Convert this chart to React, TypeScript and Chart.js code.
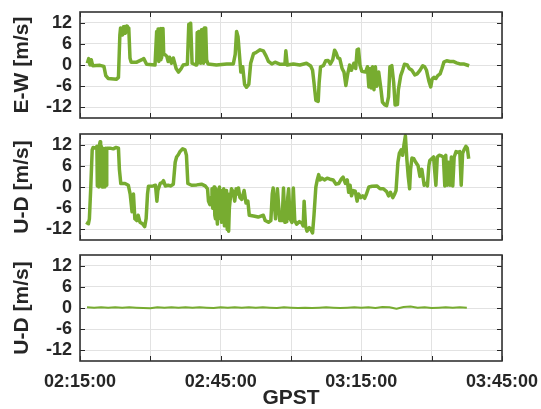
import React, { useEffect, useRef } from 'react';
import { Chart, registerables } from 'chart.js';
Chart.register(...registerables);

// time in minutes after 02:15:00 GPST
const EW_T = [
  1.56, 1.85, 2.13, 2.4, 2.7, 4.27, 5.1, 5.5, 6.0, 7.8,
  8.2, 8.5, 8.65, 8.8, 8.95, 9.1, 9.25, 9.4, 9.55, 9.7,
  9.85, 9.95, 10.1, 10.25, 10.4, 10.66, 10.9, 12.1, 13.2, 13.6,
  14.2, 16.0, 16.35, 16.5, 16.65, 16.8, 16.95, 17.1, 17.25, 17.4,
  17.55, 17.7, 17.85, 18.1, 18.5, 18.8, 19.1, 19.5, 19.9, 20.5,
  21.0, 21.5, 22.0, 22.9, 23.2, 23.4, 23.6, 23.9, 24.7, 24.9,
  25.0, 25.15, 25.3, 25.45, 25.6, 25.75, 25.9, 26.05, 26.2, 26.35,
  26.5, 26.65, 26.8, 27.0, 27.3, 29.1, 31.3, 32.7, 33.1, 33.4,
  33.7, 34.0, 34.3, 34.7, 35.1, 35.5, 36.0, 36.4, 37.0, 37.5,
  38.4, 39.1, 39.7, 40.2, 40.9, 41.6, 42.7, 43.7, 43.9, 44.2,
  45.5, 46.9, 48.3, 49.2, 49.6, 49.9, 50.3, 50.8, 51.0, 51.3,
  51.9, 52.4, 52.9, 53.4, 53.9, 54.3, 54.6, 55.0, 55.4, 55.9,
  56.3, 56.7, 57.1, 57.5, 57.9, 58.4, 58.8, 59.1, 59.4, 59.7,
  60.1, 60.9, 61.3, 61.6, 61.9, 62.1, 62.4, 62.7, 63.0, 63.3,
  63.7, 64.2, 64.5, 65.0, 65.4, 65.8, 66.1, 66.5, 66.9, 67.2,
  67.7, 67.9, 68.4, 68.8, 69.2, 69.8, 70.2, 70.8, 71.4, 71.9,
  72.5, 73.1, 73.5, 73.9, 74.4, 74.8, 75.1, 75.5, 75.9, 76.3,
  76.8, 77.2, 77.6, 78.2, 78.9, 79.6, 80.3, 81.0, 81.8, 82.5, 83.0,
];
const EW_V = [
  0.5, 1.8, 0, 1.5, -0.2, -0.1, -0.4, -3.0, -3.8, -4.0,
  -3.5, 8.5, 10.5, 8.8, 10.2, 8.5, 10.8, 9.2, 10.9, 9.0,
  11.0, 9.5, 11.0, 9.8, 10.5, 2, 0.8, 0.8, 1.5, 1.8,
  0.2, 0, 9.5, 2, 10.2, 1, 10.0, 1.5, 10.3, 2,
  10.0, 10.3, 3, 3, 2.5, 1.0, 2.2, 0.5, 2.0, -1.0,
  -2.0, -1.2, 0, 0.2, 11.5, 10.5, 11.8, 0.5, 0, 0,
  9.2, 0.5, 9.5, 1, 9.5, 0.5, 10, 1, 10, 0.5,
  10.5, 1, 10.5, 1.5, 0.3, 0, 0.3, 0.3, 3, 9.5,
  8, 3, -2, -0.5, -5.5, -6.3, -5.5, 0.5, 3.2, 3.5,
  4.3, 4.0, 2.5, 1.0, 0.3, 0.8, 0.2, 0.2, 4.0, 0,
  0.3, 0, 0.5, -0.3, -1.5, -5, -10.0, -10.3, -5, -0.5,
  -0.2, 1.2, 1.3, 0.3, 1.5, 4.2, 3.5, 2.0, 1.8, -1,
  -2, -5.8, -2.5, 0, -1.5, 0.5, -1, 4.3, 4.5, 0,
  -1.8, -2, -0.5, -6.2, -1, -6.5, -0.5, -7.0, -0.5, -6.0,
  -2, -7, -10.5, -11.3, -11.5, -9, -0.5, -0.2, -5, -11.3,
  -11.2, -7, -3, -1.5, 0.2, 0, -1, -1.5, -2.8, -2.5,
  -1.5, -0.2, -0.5, -1.5, -4.5, -6.2, -4, -3.5, -3.8, -3,
  -2.5, -1, 0.8, 1.2, 1.0, 1.0, 0.6, 0.3, 0.3, 0, -0.2,
];

const UD_T = [
  1.3, 1.8, 2.0, 2.3, 2.6, 2.8, 3.3, 3.6, 3.7, 3.85,
  4.0, 4.15, 4.3, 4.4, 4.55, 4.7, 4.85, 5.0, 5.15, 5.3,
  5.45, 5.55, 5.7, 6.4, 7.1, 7.7, 8.2, 8.4, 8.7, 9.6,
  10.3, 10.7, 11.1, 11.4, 11.7, 12.1, 12.4, 12.8, 13.4, 13.8,
  14.1, 14.4, 14.6, 15.6, 16.1, 16.4, 16.6, 17.1, 17.5, 17.8,
  18.2, 18.8, 19.3, 19.9, 20.3, 20.6, 21.0, 21.3, 21.9, 22.4,
  22.7, 23.0, 23.8, 24.9, 25.9, 26.7, 27.2, 27.4, 27.7, 28.0,
  28.15, 28.3, 28.45, 28.6, 28.75, 28.9, 29.0, 29.15, 29.3, 29.45,
  29.6, 29.75, 29.9, 30.05, 30.2, 30.35, 30.5, 30.65, 30.8, 30.95,
  31.1, 31.25, 31.4, 31.55, 31.7, 31.85, 32.0, 32.3, 32.7, 33.0,
  33.3, 33.6, 33.8, 34.1, 34.5, 35.0, 35.4, 35.8, 36.1, 37.0,
  38.0, 39.1, 39.5, 40.2, 40.7, 41.0, 41.2, 41.7, 42.1, 42.6,
  43.1, 43.4, 43.7, 44.1, 44.3, 44.5, 44.8, 45.2, 45.5, 45.8,
  46.2, 46.8, 47.3, 47.6, 47.8, 48.1, 48.4, 48.9, 49.3, 49.6,
  49.9, 50.3, 50.6, 50.9, 51.2, 51.6, 52.2, 52.7, 53.3, 54.0,
  54.6, 55.2, 55.7, 56.1, 56.6, 57.0, 57.3, 57.6, 57.9,
  58.3, 58.7, 59.1, 59.4, 59.9, 60.3, 60.7, 61.1, 61.6, 62.3,
  63.3, 64.0, 64.7, 65.4, 65.8, 66.2, 66.7, 67.1, 67.4, 67.8,
  68.1, 68.5, 68.8, 69.1, 69.4, 69.7, 70.0, 70.3, 70.5, 70.8,
  71.2, 71.6, 72.1, 72.5, 72.9, 73.4, 73.8, 74.1, 74.4, 74.6,
  75.0, 75.4, 75.9, 76.2, 76.6, 77.1, 77.5, 77.8, 78.0, 78.3,
  78.6, 78.9, 79.2, 79.5, 79.8, 80.2, 80.6, 81.0, 81.3, 81.6,
  81.9, 82.3, 82.6, 82.9,
];
const UD_V = [
  -10.0, -10.4, -9, 0, 10.5, 11.2, 11.0, 11.5, 0.3, 11.5,
  0, 12, 12.8, 0.5, 11.5, 0, 11, 0, 10.5, 0,
  11, 0.5, 11, 11.0, 10.8, 11.2, 11.0, 5, 1, 1,
  0.5, -2, -7, -2, -9, -9.5, -8, -10, -10.5, -11.2,
  -9, -2, 0.2, 0.3, 0.5, -4, -1, 1, 1.2, 1.8,
  0.3, 0.5, 0.3, 0.8, 7, 8.5, 9.2, 10.0, 10.8, 10.5,
  9, 1, 0.5, 0.6, 0.8, 0.3, -0.5, -4, -5, -3,
  -0.5, -6, -1, 0, -8, -9, -0.5, -7, -10.5, -1,
  -9, 0, -8, -2, -10, -1, -9, -0.5, -11, -3,
  -11, -1, -12, -2, -12.5, -6, -4, -0.5, -1.5, -4,
  -0.5, -2, -0.3, -3, -3.5, -1, -4.5, -4, -8, -8.2,
  -8.5, -8.0, -9.5, -10, -9.5, -2, -0.3, -9, -0.5, -9.5,
  -9.5, -0.3, -10, -9.8, -3, -0.5, -9, -10, -0.3, -9.5,
  -10.5, -9.8, -10.2, -11, -4, -11, -12.5, -11.5, -12.2, -13.0,
  -8, 0, 2, 3.5, 2, 2.5, 2.0, 2.5, 2.2, 2.0,
  0.8, 1.0, 2.2, 2.8, 1, 2, -1.5, 0.5, -2.5,
  -1, -1.2, -4, -2, -3, -2.5, -3.2, -2, 0, 0.2,
  0.3, -0.5, -0.5, -1.3, -2.5, -1.5, -3.0, -2.0, -1, 7,
  9.5, 10.5, 9, 12, 14.5, 8, 3, -0.5, 5, 8.2,
  8, 7, 6, 3, 5, 0.5, 1, 0.3, 6, 7.5,
  8, 8.5, 0.5, 8.5, 9, 8.8, 8.5, 0.3, 9, 0.5,
  7, 0.5, 8.5, 0.3, 8.5, 10, 9.8, 10, 0.5, 9.5,
  10.5, 11.5, 11, 8,
];

const UD2_T = [
  1.5, 3, 4.5, 6, 7.5, 9, 10.5, 12, 13.5, 15,
  16.5, 18, 19.5, 21, 22.5, 24, 25.5, 27, 28.5, 30,
  31.5, 33, 34.5, 36, 37.5, 39, 40.5, 42, 43.5, 45,
  46.5, 48, 49.5, 51, 52.5, 54, 55.5, 57, 58.5, 60,
  61.5, 63, 64.5, 66, 67.5, 69, 70.5, 72, 73.5, 75,
  76.5, 78, 79.5, 81, 82.5,
];
const UD2_V = [
  0.2, 0.1, 0.2, 0.1, 0.2, 0.1, 0.2, 0.1, 0.0, -0.1,
  0.2, 0.1, 0.2, 0.1, 0.2, 0.1, 0.2, 0.1, 0.0, 0.2,
  0.1, 0.2, 0.1, 0.2, 0.1, 0.2, 0.1, 0.0, 0.2, 0.1,
  0.0, 0.1, 0.0, 0.1, 0.2, 0.1, 0.0, 0.1, 0.2, 0.1,
  0.2, 0.0, 0.3, 0.2, -0.2, 0.3, 0.4, 0.1, 0.2, 0.0,
  0.1, 0.2, 0.1, 0.2, 0.1,
];

const Y_TICKS = [-12, -6, 0, 6, 12];
const X_TICKS = [0, 15, 30, 45, 60, 75, 90];
const X_LABELED = [0, 30, 60, 90];
const Y_TITLES = ['E-W [m/s]', 'U-D [m/s]', 'U-D [m/s]'];
const X_TITLE = 'GPST';
const START_MIN = 2 * 60 + 15;

const FONT = "'Liberation Sans', Arial, Helvetica, sans-serif";
const TEXT = '#262626';
const GREEN = '#77ac30';

function fmt(m: number) {
  const tot = START_MIN + m;
  const h = Math.floor(tot / 60);
  const mm = Math.round(tot % 60);
  return `${String(h).padStart(2, '0')}:${String(mm).padStart(2, '0')}:00`;
}

const boxPlugin = {
  id: 'matlabBox',
  afterDatasetsDraw(chart: any) {
    const { ctx, chartArea: a, scales } = chart;
    ctx.save();
    ctx.strokeStyle = TEXT;
    ctx.lineWidth = 1;
    const L = 5;
    ctx.beginPath();
    scales.x.ticks.forEach((tk: any) => {
      const px = Math.round(scales.x.getPixelForValue(tk.value)) + 0.5;
      ctx.moveTo(px, a.bottom);
      ctx.lineTo(px, a.bottom - L);
      ctx.moveTo(px, a.top);
      ctx.lineTo(px, a.top + L);
    });
    scales.y.ticks.forEach((tk: any) => {
      const py = Math.round(scales.y.getPixelForValue(tk.value)) + 0.5;
      ctx.moveTo(a.left, py);
      ctx.lineTo(a.left + L, py);
      ctx.moveTo(a.right, py);
      ctx.lineTo(a.right - L, py);
    });
    ctx.stroke();
    ctx.lineWidth = 1.6;
    ctx.strokeStyle = '#333333';
    ctx.strokeRect(a.left, a.top, a.right - a.left, a.bottom - a.top);
    ctx.restore();
  },
};

type PanelProps = {
  t: number[];
  v: number[];
  title: string;
  top: number;
  height: number;
  padTop: number;
  xHeight: number;
  showX: boolean;
  lineWidth: number;
};

function Panel({ t, v, title, top, height, padTop, xHeight, showX, lineWidth }: PanelProps) {
  const ref = useRef<HTMLCanvasElement | null>(null);
  useEffect(() => {
    if (!ref.current) return;
    const chart = new Chart(ref.current, {
      type: 'line',
      data: {
        datasets: [
          {
            data: t.map((x, i) => ({ x, y: v[i] })),
            borderColor: GREEN,
            borderWidth: lineWidth,
            pointRadius: 0,
            tension: 0,
            fill: false,
            borderJoinStyle: 'round',
          },
        ],
      },
      options: {
        animation: false,
        responsive: false,
        devicePixelRatio: 1,
        layout: { padding: { left: 0, right: 39, top: padTop, bottom: 0 } },
        plugins: { legend: { display: false }, tooltip: { enabled: false } },
        scales: {
          x: {
            type: 'linear',
            min: 0,
            max: 90,
            afterBuildTicks: (s: any) => {
              s.ticks = X_TICKS.map((value) => ({ value }));
            },
            afterFit: (s: any) => {
              s.height = xHeight;
              s.paddingLeft = 0;
              s.paddingRight = 0;
              s.paddingTop = 0;
              s.paddingBottom = 0;
            },
            grid: { color: '#e2e2e2', drawTicks: false, lineWidth: 1 },
            border: { display: false },
            ticks: {
              display: showX,
              autoSkip: false,
              maxRotation: 0,
              minRotation: 0,
              padding: 12,
              color: TEXT,
              font: { family: FONT, size: 18, weight: 'bold', lineHeight: 1 },
              callback: (val: any) => (X_LABELED.includes(Number(val)) ? fmt(Number(val)) : ''),
            },
            title: {
              display: showX,
              text: X_TITLE,
              color: TEXT,
              font: { family: FONT, size: 21, weight: 'bold', lineHeight: 1 },
              padding: { top: 0, bottom: 0 },
            },
          },
          y: {
            type: 'linear',
            min: -15,
            max: 15,
            afterBuildTicks: (s: any) => {
              s.ticks = Y_TICKS.map((value) => ({ value }));
            },
            afterFit: (s: any) => {
              s.width = 80;
              s.paddingLeft = 0;
              s.paddingRight = 0;
              s.paddingTop = 0;
              s.paddingBottom = 0;
            },
            grid: { color: '#e2e2e2', drawTicks: false, lineWidth: 1 },
            border: { display: false },
            ticks: {
              autoSkip: false,
              padding: 8,
              color: TEXT,
              font: { family: FONT, size: 18, weight: 'bold', lineHeight: 1.2 },
            },
            title: {
              display: true,
              text: title,
              color: TEXT,
              font: { family: FONT, size: 21, weight: 'bold', lineHeight: 1 },
              padding: { top: 12, bottom: 0 },
            },
          },
        },
      },
      plugins: [boxPlugin],
    } as any);
    return () => chart.destroy();
  }, []);
  return (
    <canvas
      ref={ref}
      width={541}
      height={height}
      style={{ position: 'absolute', left: 0, top, width: 541, height, display: 'block' }}
    />
  );
}

export default function App() {
  return (
    <div
      style={{
        position: 'fixed',
        left: 0,
        top: 0,
        width: 541,
        height: 409,
        background: '#ffffff',
        overflow: 'hidden',
      }}
    >
      <Panel t={EW_T} v={EW_V} title={Y_TITLES[0]} top={0} height={126} padTop={12} xHeight={8} showX={false} lineWidth={3.5} />
      <Panel t={UD_T} v={UD_V} title={Y_TITLES[1]} top={126} height={122} padTop={8} xHeight={8} showX={false} lineWidth={3.5} />
      <Panel t={UD2_T} v={UD2_V} title={Y_TITLES[2]} top={248} height={161} padTop={7} xHeight={48} showX={true} lineWidth={2} />
    </div>
  );
}
